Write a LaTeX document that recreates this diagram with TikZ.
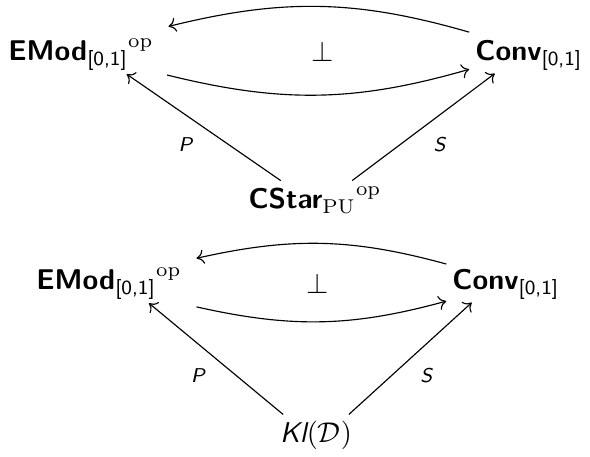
\documentclass[tikz,border=0pt]{standalone}
\usepackage{amsmath}
\usepackage{amssymb}
\usepackage{tikz}
\usetikzlibrary{arrows.meta, positioning}

\newcommand{\catname}[1]{\textsf{\bfseries #1}}
\newcommand{\unitint}{\textsf{[0,1]}}
\newcommand{\funcname}[1]{\textsf{\itshape #1}}

\begin{document}
\begin{tikzpicture}[x=0.35pt, y=-0.35pt,
    obj/.style={inner sep=2pt},
    arr/.style={-{To[length=2.6pt,width=5pt]}, line width=0.4pt},
    lbl/.style={font=\scriptsize}
]
\useasboundingbox (0,0) rectangle (590,456);

% first adjunction, over C*-algebras
\node[obj] (emodA) at (81,55)  {${\catname{EMod}_{\unitint}}^{\mathrm{op}}$};
\node[obj] (convA) at (529,55) {$\catname{Conv}_{\unitint}$};
\node[obj] (cstar) at (315,200) {${\catname{CStar}_{\mathrm{PU}}}^{\mathrm{op}}$};
\node (perpA) at (323,52) {$\perp$};

\draw[arr] ([yshift=8pt]convA.west) to[bend right=15] ([xshift=3pt,yshift=10pt]emodA.east);
\draw[arr] ([xshift=2.5pt,yshift=-7pt]emodA.east) to[bend right=15] ([yshift=-5pt]convA.west);
\draw[arr] ([xshift=-12pt]cstar.north) -- node[lbl, midway, below left=0pt]{\funcname{P}} ([xshift=16pt,yshift=1pt]emodA.south);
\draw[arr] ([xshift=13pt]cstar.north) -- node[lbl, midway, below right=0pt]{\funcname{S}} ([xshift=-12pt,yshift=1pt]convA.south);

% second adjunction, over the Kleisli category
\node[obj] (emodB) at (109,284) {${\catname{EMod}_{\unitint}}^{\mathrm{op}}$};
\node[obj] (convB) at (506,284) {$\catname{Conv}_{\unitint}$};
\node[obj] (kleisli) at (316,435) {$\funcname{Kl}(\mathcal{D})$};
\node (perpB) at (318,284) {$\perp$};

\draw[arr] ([yshift=7pt]convB.west) to[bend right=14] ([xshift=3pt,yshift=9pt]emodB.east);
\draw[arr] ([xshift=3pt,yshift=-8pt]emodB.east) to[bend right=14] ([yshift=-6pt]convB.west);
\draw[arr] ([xshift=-11.5pt]kleisli.north) -- node[lbl, midway, below left=0pt]{\funcname{P}} ([xshift=14pt,yshift=1pt]emodB.south);
\draw[arr] ([xshift=11.5pt]kleisli.north) -- node[lbl, midway, below right=0pt]{\funcname{S}} ([xshift=-12pt,yshift=1pt]convB.south);
\end{tikzpicture}
\end{document}
